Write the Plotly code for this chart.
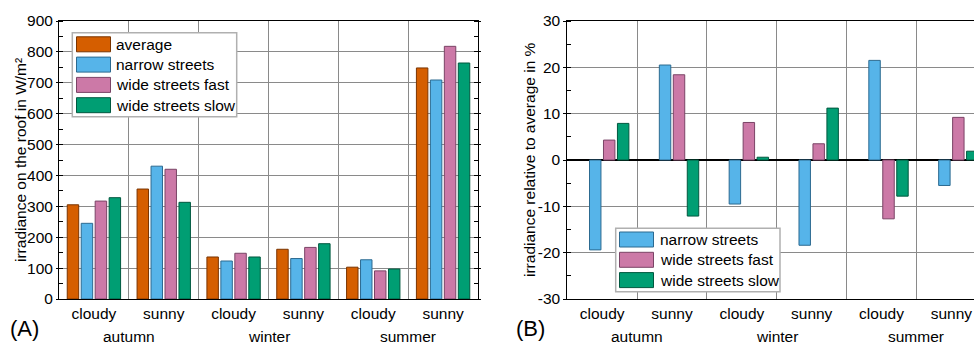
import plotly.graph_objects as go

W, H = 974, 345

conditions = ["cloudy", "sunny", "cloudy", "sunny", "cloudy", "sunny"]
seasons = ["autumn", "winter", "summer"]

series_names = ["average", "narrow streets", "wide streets fast", "wide streets slow"]
fill_colors = ["#D55E00", "#56B4E9", "#CC79A7", "#009E73"]
line_colors = ["#7A3400", "#2C6A90", "#7A4466", "#00583F"]

# absolute irradiance on the roof (W/m²)
irr_average = [305, 356, 136, 161, 103, 748]
irr_narrow = [245, 430, 123, 131, 127, 709]
irr_fast = [317, 420, 148, 167, 91, 818]
irr_slow = [328, 313, 136, 179, 97, 764]

# relative to average (%)
rel_average = [0, 0, 0, 0, 0, 0]
rel_narrow = [-19.4, 20.5, -9.5, -18.4, 21.5, -5.5]
rel_fast = [4.3, 18.4, 8.1, 3.5, -12.7, 9.2]
rel_slow = [7.9, -12.1, 0.6, 11.2, -7.8, 1.9]

left_ticks = [0, 100, 200, 300, 400, 500, 600, 700, 800, 900]
right_ticks = [-30, -20, -10, 0, 10, 20, 30]
right_ticktext = ["-30", "-20", "-10", "0", "10", "20", "30"]

FONT = "Arial, Liberation Sans, sans-serif"
FS = 15.5
GRID = "#8a8a8a"

xpos = list(range(len(conditions)))
boundaries = [i + 0.5 for i in range(len(conditions) - 1)]
season_centers = [0.5, 2.5, 4.5]

fig = go.Figure()

abs_data = [irr_average, irr_narrow, irr_fast, irr_slow]
rel_data = [rel_average, rel_narrow, rel_fast, rel_slow]

for i, name in enumerate(series_names):
    fig.add_trace(go.Bar(
        x=xpos, y=abs_data[i], name=name, showlegend=False,
        marker=dict(color=fill_colors[i], line=dict(color=line_colors[i], width=1)),
        xaxis="x", yaxis="y"))
for i, name in enumerate(series_names):
    fig.add_trace(go.Bar(
        x=xpos, y=rel_data[i], name=name, showlegend=False,
        marker=dict(color=fill_colors[i],
                    line=dict(color=line_colors[i], width=0 if i == 0 else 1)),
        xaxis="x2", yaxis="y2"))


def px(x):
    return x / W


def py(y):
    return 1 - y / H


left_dom = [px(59), px(478)]
right_dom = [px(567.3), 1.0]
ydom = [py(299), py(21)]

common_x = dict(
    tickmode="array", tickvals=xpos, ticktext=conditions, ticks="",
    showgrid=False, showline=True, linecolor="black", linewidth=1, mirror=True,
    tickfont=dict(family=FONT, size=FS, color="black"),
    minor=dict(tickmode="array", tickvals=boundaries, showgrid=True,
               gridcolor=GRID, gridwidth=1, ticks=""),
    zeroline=False, fixedrange=True, automargin=False)

fig.update_layout(
    template="none",
    width=W, height=H, autosize=False,
    margin=dict(l=0, r=0, t=0, b=0, pad=0),
    paper_bgcolor="white", plot_bgcolor="white",
    showlegend=False,
    barmode="group", bargap=0.2, bargroupgap=0.18,
    font=dict(family=FONT, size=FS, color="black"),
    xaxis=dict(domain=left_dom, range=[-0.5, 5.5], anchor="y", **common_x),
    xaxis2=dict(domain=right_dom, range=[-0.5, 5.5 - (986.3 - 974) / 70], anchor="y2", **common_x),
    yaxis=dict(domain=ydom, range=[0, 900], anchor="x", automargin=False,
               tickmode="array", tickvals=left_ticks,
               ticks="outside", ticklen=2, tickcolor="black",
               showgrid=True, gridcolor=GRID, gridwidth=1,
               showline=True, linecolor="black", mirror="ticks",
               zeroline=False, fixedrange=True,
               minor=dict(dtick=50, ticks="inside", ticklen=4, tickcolor="black", showgrid=False),
               tickfont=dict(family=FONT, size=FS, color="black")),
    yaxis2=dict(domain=ydom, range=[-30, 30], anchor="x2", automargin=False,
                tickmode="array", tickvals=right_ticks, ticktext=right_ticktext,
                ticks="outside", ticklen=3, tickcolor="black",
                showgrid=True, gridcolor=GRID, gridwidth=1,
                showline=True, linecolor="black", mirror=False,
                zeroline=True, zerolinecolor="black", zerolinewidth=1.3, fixedrange=True,
                minor=dict(dtick=5, ticks="inside", ticklen=4, tickcolor="black", showgrid=False),
                tickfont=dict(family=FONT, size=FS, color="black")),
)

annotations = []
shapes = []

# season labels
for xr in ["x", "x2"]:
    for s, c in zip(seasons, season_centers):
        annotations.append(dict(x=c, xref=xr, y=py(336), yref="paper", text=s,
                                showarrow=False, xanchor="center", yanchor="middle",
                                font=dict(family=FONT, size=FS, color="black")))

# y-axis titles
annotations.append(dict(x=px(20), y=py(160), xref="paper", yref="paper",
                        text="irradiance on the roof in W/m²", textangle=-90,
                        showarrow=False, xanchor="center", yanchor="middle",
                        font=dict(family=FONT, size=FS, color="black")))
annotations.append(dict(x=px(529), y=py(160), xref="paper", yref="paper",
                        text="irradiance relative to average in %", textangle=-90,
                        showarrow=False, xanchor="center", yanchor="middle",
                        font=dict(family=FONT, size=FS, color="black")))

# panel labels
annotations.append(dict(x=px(8), y=py(328), xref="paper", yref="paper", text="(A)",
                        showarrow=False, xanchor="left", yanchor="middle",
                        font=dict(family=FONT, size=22, color="black")))
annotations.append(dict(x=px(514), y=py(328), xref="paper", yref="paper", text="(B)",
                        showarrow=False, xanchor="left", yanchor="middle",
                        font=dict(family=FONT, size=22, color="black")))


def legend(box, sw_x0, sw_x1, first_center, pitch, text_x, idxs):
    x0, y0, x1, y1 = box
    shapes.append(dict(type="rect", xref="paper", yref="paper",
                       x0=px(x0), x1=px(x1), y0=py(y1), y1=py(y0),
                       fillcolor="white", line=dict(color="#b0b0b0", width=1.5),
                       layer="above"))
    for k, i in enumerate(idxs):
        cy = first_center + k * pitch
        shapes.append(dict(type="rect", xref="paper", yref="paper",
                           x0=px(sw_x0), x1=px(sw_x1), y0=py(cy + 7.5), y1=py(cy - 7.5),
                           fillcolor=fill_colors[i], line=dict(color=line_colors[i], width=1),
                           layer="above"))
        annotations.append(dict(x=px(text_x), y=py(cy), xref="paper", yref="paper",
                                text=series_names[i], showarrow=False,
                                xanchor="left", yanchor="middle",
                                font=dict(family=FONT, size=FS, color="black")))


legend((72.3, 32.7, 236.7, 116.7), 76.5, 110.5, 44.3, 20.3, 114, [0, 1, 2, 3])
legend((615.7, 228.3, 780, 291.7), 619.5, 653.5, 239.5, 20.3, 657.5, [1, 2, 3])

fig.update_layout(annotations=annotations, shapes=shapes)

fig.write_html("out.html",
               config={"displayModeBar": False, "staticPlot": True},
               post_script="document.body.style.margin='0';document.body.style.overflow='hidden';")
